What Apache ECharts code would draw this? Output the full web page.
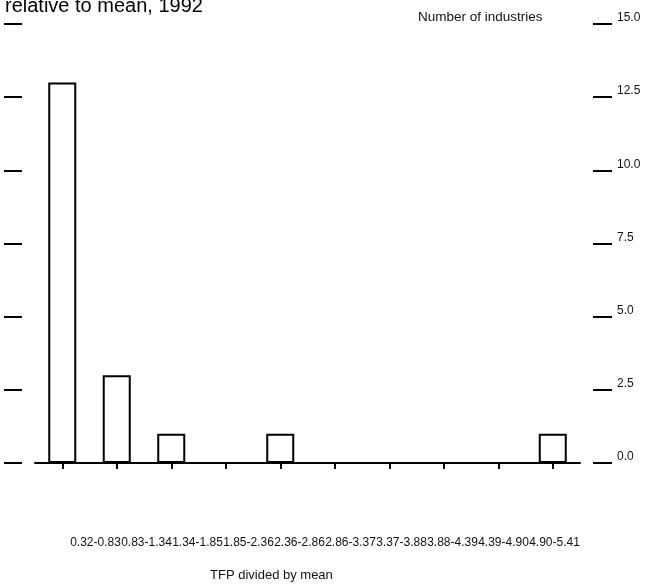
<!DOCTYPE html>
<html>
<head>
<meta charset="utf-8">
<script src="https://cdn.jsdelivr.net/npm/echarts@6/dist/echarts.min.js"></script>
<style>html,body{margin:0;padding:0;background:#fff;}#c{width:655px;height:588px;}</style>
</head>
<body>
<div id="c"></div>
<script>
const categories = ['0.32-0.83','0.83-1.34','1.34-1.85','1.85-2.36','2.36-2.86','2.86-3.37','3.37-3.88','3.88-4.39','4.39-4.90','4.90-5.41'];
const industries = [13, 3, 1, 0, 1, 0, 0, 0, 0, 1];
const yTicks = [0, 2.5, 5, 7.5, 10, 12.5, 15];

const FONT = '"Liberation Sans", Arial, sans-serif';
const rich = {};
categories.forEach((c, i) => {
  rich['l' + i] = { padding: [0, 0, 0, Math.max(0, 66.5 - 7 * i)], fontSize: 12, color: '#111', fontFamily: FONT };
});

const chart = echarts.init(document.getElementById('c'), null, { renderer: 'canvas' });
chart.setOption({
  animation: false,
  backgroundColor: '#fff',
  title: [
    { text: 'relative to mean, 1992', left: 0, top: -8.5, textStyle: { fontSize: 20, fontWeight: 'normal', color: '#000', fontFamily: FONT } },
    { text: 'Number of industries', left: 413, top: 5, textStyle: { fontSize: 13.5, fontWeight: 'normal', color: '#111', fontFamily: FONT } },
    { text: 'TFP divided by mean', left: 205, top: 564, textStyle: { fontSize: 13, fontWeight: 'normal', color: '#111', fontFamily: FONT } }
  ],
  grid: { left: 35, right: 75, top: 24, bottom: 125, containLabel: false },
  xAxis: {
    type: 'category',
    data: categories,
    axisLine: { show: true, lineStyle: { color: '#000', width: 2 } },
    axisTick: { show: true, alignWithLabel: true, length: 6, lineStyle: { color: '#000', width: 2 } },
    axisLabel: {
      interval: 0, margin: 74, hideOverlap: false,
      formatter: (v, i) => '{l' + i + '|' + v + '}',
      rich: rich
    },
    splitLine: { show: false }
  },
  yAxis: [
    {
      type: 'value', position: 'left', offset: 13, min: 0, max: yTicks[yTicks.length - 1], interval: yTicks[1] - yTicks[0],
      axisLine: { show: false },
      axisTick: { show: true, length: 18, lineStyle: { color: '#000', width: 2 } },
      axisLabel: { show: false },
      splitLine: { show: false }
    },
    {
      type: 'value', position: 'right', offset: 13, min: 0, max: yTicks[yTicks.length - 1], interval: yTicks[1] - yTicks[0],
      axisLine: { show: false },
      axisTick: { show: true, length: 19, lineStyle: { color: '#000', width: 2 } },
      axisLabel: { show: true, margin: 24, fontSize: 12, lineHeight: 12, color: '#111', fontFamily: FONT, verticalAlign: 'bottom', formatter: v => v.toFixed(1) },
      splitLine: { show: false }
    }
  ],
  series: [{
    type: 'bar',
    data: industries,
    yAxisIndex: 1,
    barWidth: 28,
    itemStyle: { color: '#fff', borderColor: '#000', borderWidth: 2 },
    emphasis: { disabled: true }
  }]
});
</script>
</body>
</html>
